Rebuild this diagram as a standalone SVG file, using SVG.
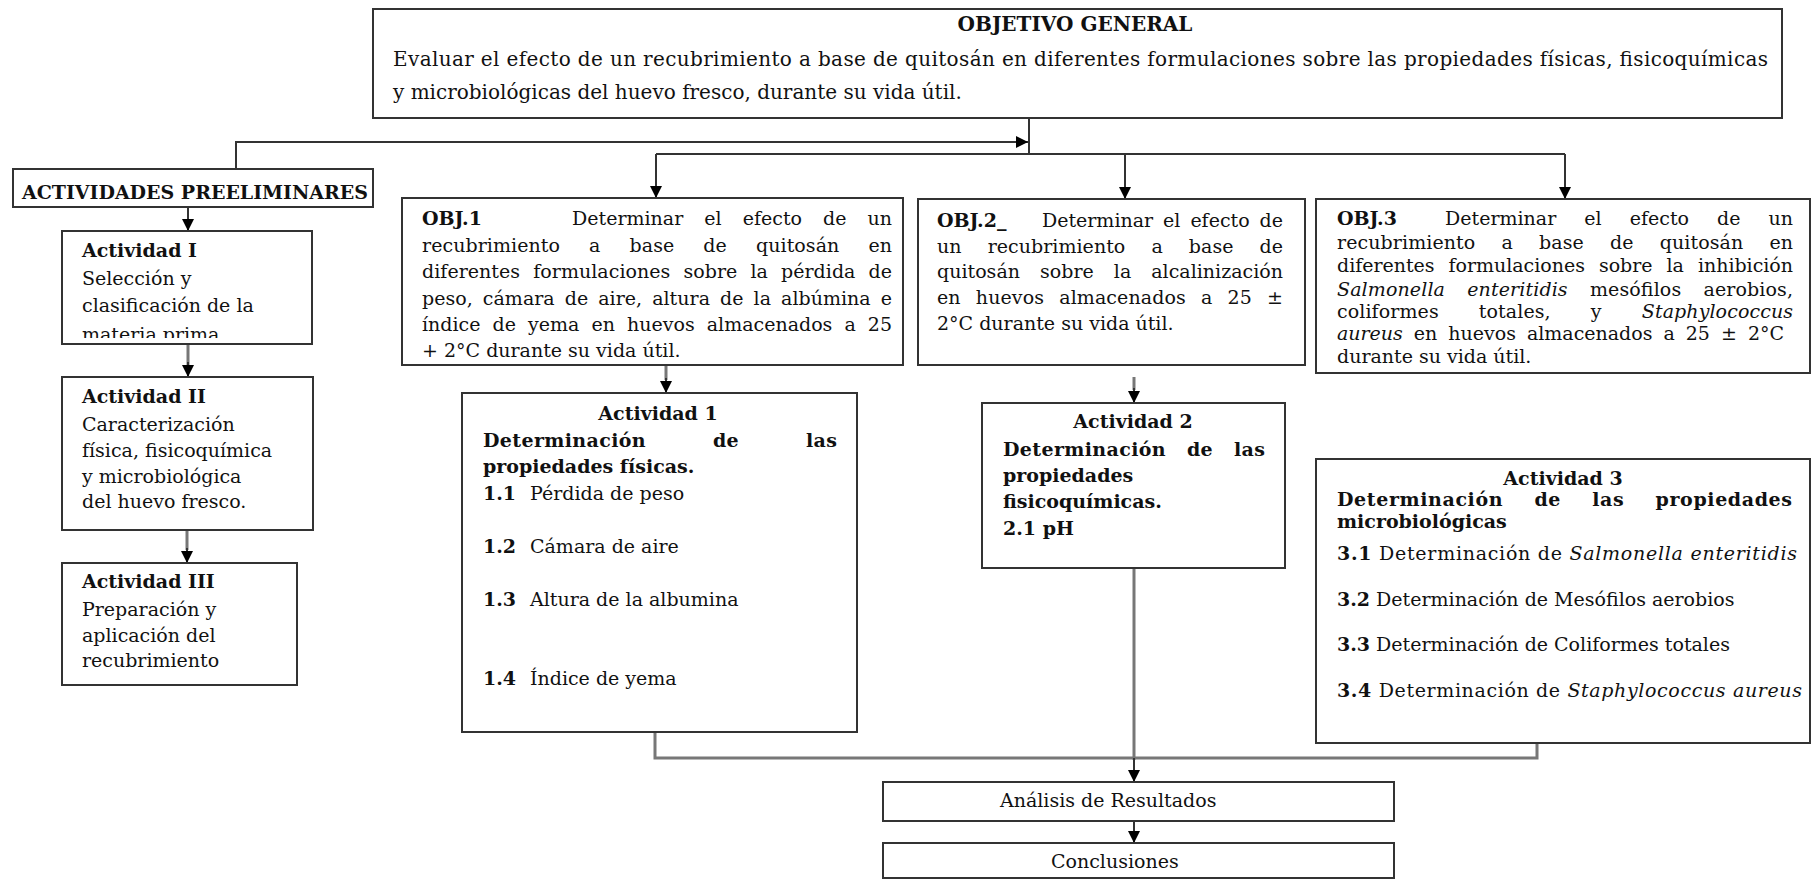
<svg xmlns="http://www.w3.org/2000/svg" width="1813" height="879" viewBox="0 0 1813 879">
<style>
.t{font-family:"DejaVu Serif","Liberation Serif",serif;font-size:19px;fill:#111}
.h{font-size:20px}
.b{font-weight:bold}
.i{font-style:italic}
.box{fill:#fff;stroke:#333;stroke-width:2}
.c{fill:none;stroke:#333;stroke-width:2}
.g{fill:none;stroke:#777;stroke-width:3}
</style>
<defs>
<marker id="ah" viewBox="0 0 10 10" refX="10" refY="5" markerWidth="12" markerHeight="12" markerUnits="userSpaceOnUse" orient="auto">
<path d="M0,0 L10,5 L0,10 z" fill="#000"/>
</marker>
<clipPath id="clipA1"><rect x="62" y="231" width="250" height="107"/></clipPath>
</defs>
<rect width="1813" height="879" fill="#fff"/>

<g id="connectors">
<path class="c" d="M1029,118 V154"/>
<path class="c" d="M236,169 V142 H1028" marker-end="url(#ah)"/>
<path class="c" d="M656,154 H1565"/>
<path class="c" d="M656,154 V198" marker-end="url(#ah)"/>
<path class="c" d="M1125,154 V199" marker-end="url(#ah)"/>
<path class="c" d="M1565,154 V199" marker-end="url(#ah)"/>
<path class="c" d="M188,207 V231" marker-end="url(#ah)"/>
<path class="g" d="M188,344 V365"/>
<path class="c" d="M188,362 V377" marker-end="url(#ah)"/>
<path class="g" d="M187,530 V550"/>
<path class="c" d="M187,548 V563" marker-end="url(#ah)"/>
<path class="g" d="M666,365 V380"/>
<path class="c" d="M666,378 V393" marker-end="url(#ah)"/>
<path class="g" d="M1134,377 V390"/>
<path class="c" d="M1134,388 V403" marker-end="url(#ah)"/>
<path class="g" d="M655,732 V758 H1537 V743"/>
<path class="g" d="M1134,568 V760"/>
<path class="c" d="M1134,758 V782" marker-end="url(#ah)"/>
<path class="c" d="M1134,821 V843" marker-end="url(#ah)"/>
</g>

<g id="objetivo-general">
<rect class="box" x="373" y="9" width="1409" height="109"/>
<text class="t h b" x="1075" y="31" text-anchor="middle">OBJETIVO GENERAL</text>
<text class="t h" x="393" y="66" textLength="1375">Evaluar el efecto de un recubrimiento a base de quitosán en diferentes formulaciones  sobre las propiedades físicas, fisicoquímicas</text>
<text class="t h" x="393" y="99">y  microbiológicas  del huevo fresco, durante su vida útil.</text>
</g>

<g id="actividades-preeliminares">
<rect class="box" x="13" y="169" width="360" height="38"/>
<text class="t b" x="22" y="199" textLength="346">ACTIVIDADES PREELIMINARES</text>
</g>

<g id="actividad-I">
<rect class="box" x="62" y="231" width="250" height="113"/>
<text class="t b" x="82" y="257">Actividad I</text>
<text class="t" x="82" y="285">Selección y</text>
<text class="t" x="82" y="312">clasificación de la</text>
<text class="t" x="82" y="341" clip-path="url(#clipA1)">materia prima.</text>
</g>

<g id="actividad-II">
<rect class="box" x="62" y="377" width="251" height="153"/>
<text class="t b" x="82" y="403">Actividad II</text>
<text class="t" x="82" y="431">Caracterización</text>
<text class="t" x="82" y="457">física, fisicoquímica</text>
<text class="t" x="82" y="483">y microbiológica</text>
<text class="t" x="82" y="508">del huevo fresco.</text>
</g>

<g id="actividad-III">
<rect class="box" x="62" y="563" width="235" height="122"/>
<text class="t b" x="82" y="588">Actividad III</text>
<text class="t" x="82" y="616">Preparación y</text>
<text class="t" x="82" y="642">aplicación del</text>
<text class="t" x="82" y="667">recubrimiento</text>
</g>

<g id="obj1">
<rect class="box" x="402" y="198" width="501" height="167"/>
<text class="t b" x="422" y="225">OBJ.1</text>
<text class="t" x="572" y="225" word-spacing="15" textLength="320">Determinar el efecto de un</text>
<text class="t" x="422" y="252" word-spacing="23" textLength="470">recubrimiento a base de quitosán en</text>
<text class="t" x="422" y="278" word-spacing="7" textLength="470">diferentes formulaciones sobre la pérdida de</text>
<text class="t" x="422" y="305" word-spacing="4" textLength="470">peso, cámara de aire, altura de la albúmina e</text>
<text class="t" x="422" y="331" word-spacing="6" textLength="470">índice de yema en huevos almacenados a 25</text>
<text class="t" x="422" y="357">+ 2°C  durante su vida útil.</text>
</g>

<g id="obj2">
<rect class="box" x="918" y="199" width="387" height="166"/>
<text class="t b" x="937" y="227">OBJ.2_</text>
<text class="t" x="1042" y="227" word-spacing="4" textLength="241">Determinar el efecto de</text>
<text class="t" x="937" y="253" word-spacing="20" textLength="346">un recubrimiento a base de</text>
<text class="t" x="937" y="278" word-spacing="14" textLength="346">quitosán sobre la alcalinización</text>
<text class="t" x="937" y="304" word-spacing="9" textLength="346">en huevos almacenados a 25 ±</text>
<text class="t" x="937" y="330">2°C durante su vida útil.</text>
</g>

<g id="obj3">
<rect class="box" x="1316" y="199" width="494" height="174"/>
<text class="t b" x="1337" y="225">OBJ.3</text>
<text class="t" x="1445" y="225" word-spacing="22" textLength="348">Determinar el efecto de un</text>
<text class="t" x="1337" y="249" word-spacing="20" textLength="456">recubrimiento a base de quitosán en</text>
<text class="t" x="1337" y="272" word-spacing="8" textLength="456">diferentes formulaciones sobre la inhibición</text>
<text class="t" x="1337" y="296" word-spacing="16" textLength="456"><tspan class="i">Salmonella enteritidis</tspan> mesófilos aerobios,</text>
<text class="t" x="1337" y="318" word-spacing="34" textLength="456">coliformes totales, y <tspan class="i">Staphylococcus</tspan></text>
<text class="t" x="1337" y="340" word-spacing="5" textLength="447"><tspan class="i">aureus</tspan> en huevos almacenados a 25 ± 2°C</text>
<text class="t" x="1337" y="363">durante su vida útil.</text>
</g>

<g id="actividad-1">
<rect class="box" x="462" y="393" width="395" height="339"/>
<text class="t b" x="658" y="420" text-anchor="middle">Actividad 1</text>
<text class="t b" x="483" y="447" word-spacing="60" textLength="354">Determinación de las</text>
<text class="t b" x="483" y="473">propiedades físicas.</text>
<text class="t b" x="483" y="500">1.1</text><text class="t" x="530" y="500">Pérdida de peso</text>
<text class="t b" x="483" y="553">1.2</text><text class="t" x="530" y="553">Cámara de aire</text>
<text class="t b" x="483" y="606">1.3</text><text class="t" x="530" y="606">Altura de la albumina</text>
<text class="t b" x="483" y="685">1.4</text><text class="t" x="530" y="685">Índice de yema</text>
</g>

<g id="actividad-2">
<rect class="box" x="982" y="403" width="303" height="165"/>
<text class="t b" x="1133" y="428" text-anchor="middle">Actividad 2</text>
<text class="t b" x="1003" y="456" word-spacing="14" textLength="262">Determinación de las</text>
<text class="t b" x="1003" y="482">propiedades</text>
<text class="t b" x="1003" y="508">fisicoquímicas.</text>
<text class="t b" x="1003" y="535">2.1  pH</text>
</g>

<g id="actividad-3">
<rect class="box" x="1316" y="459" width="494" height="284"/>
<text class="t b" x="1563" y="485" text-anchor="middle">Actividad 3</text>
<text class="t b" x="1337" y="506" word-spacing="24" textLength="455">Determinación de las propiedades</text>
<text class="t b" x="1337" y="528">microbiológicas</text>
<text class="t" x="1337" y="560" textLength="460"><tspan class="b">3.1</tspan> Determinación de <tspan class="i">Salmonella enteritidis</tspan></text>
<text class="t" x="1337" y="606"><tspan class="b">3.2</tspan> Determinación de Mesófilos aerobios</text>
<text class="t" x="1337" y="651"><tspan class="b">3.3</tspan> Determinación de Coliformes totales</text>
<text class="t" x="1337" y="697" textLength="465"><tspan class="b">3.4</tspan> Determinación de <tspan class="i">Staphylococcus aureus</tspan></text>
</g>

<g id="analisis">
<rect class="box" x="883" y="782" width="511" height="39"/>
<text class="t" x="1000" y="807">Análisis de Resultados</text>
</g>

<g id="conclusiones">
<rect class="box" x="883" y="843" width="511" height="35"/>
<text class="t" x="1051" y="868">Conclusiones</text>
</g>
</svg>
